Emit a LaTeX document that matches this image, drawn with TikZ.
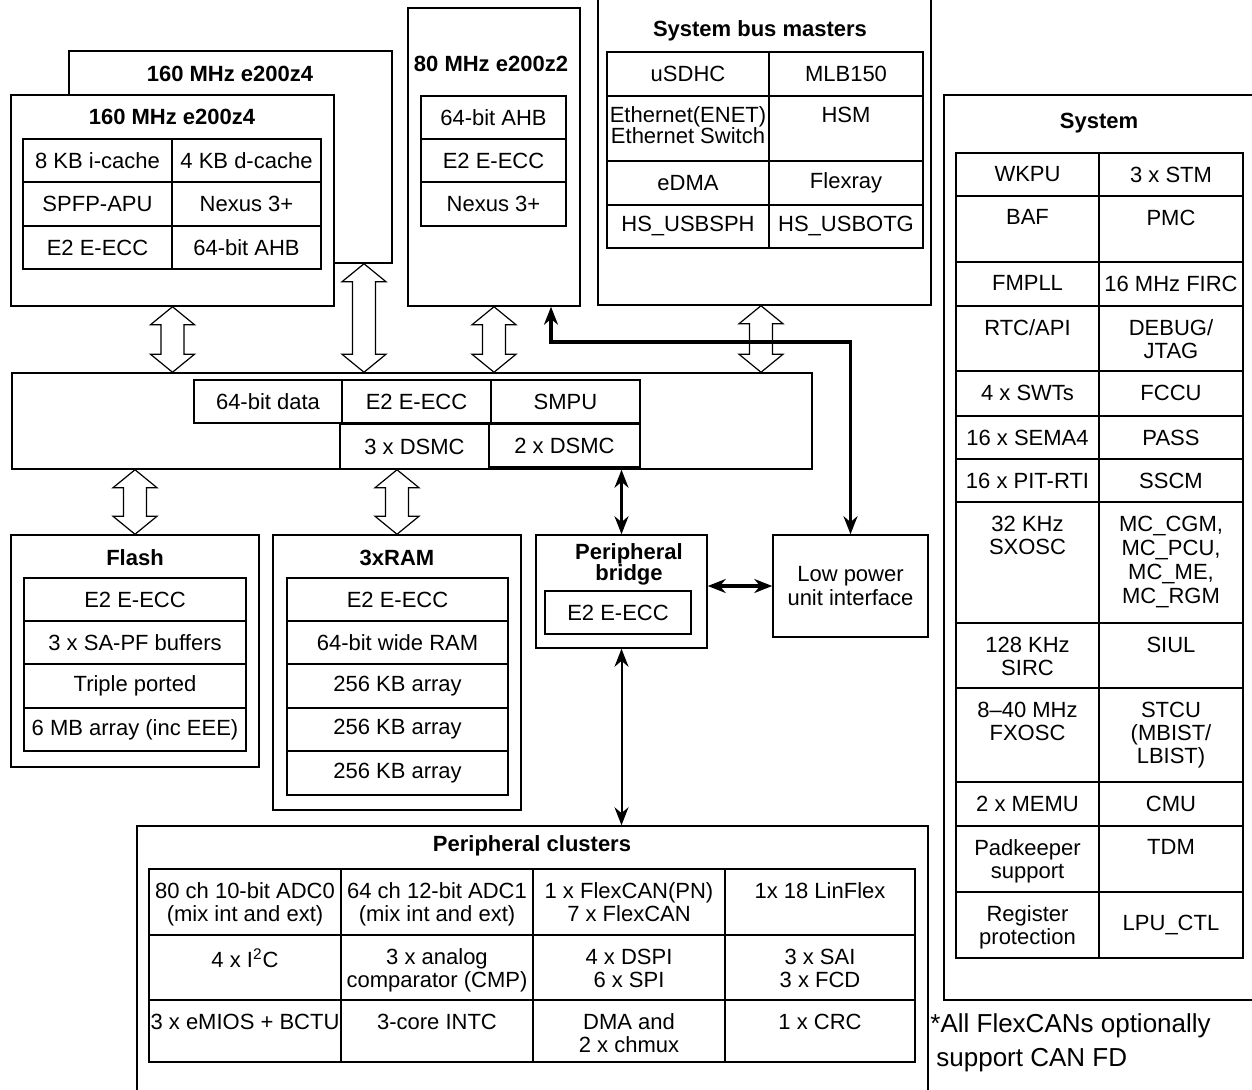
\documentclass[tikz,border=0pt]{standalone}
\usepackage{fontspec}
\setmainfont{Liberation Sans}
\usetikzlibrary{arrows.meta,fit,calc}
\begin{document}
\begin{tikzpicture}[x=0.5pt,y=-0.5pt]
    \tikzstyle{every node}+=[inner sep=0pt, font=\fontsize{11}{11.5}\selectfont]
    \tikzstyle{box}=[draw=black, line width=0.75pt, fill=white]
    \tikzstyle{ttl}=[font=\fontsize{11}{10.5}\selectfont\bfseries, align=center]
    \tikzstyle{tl}=[anchor=north, yshift=-7pt, align=center]
    \tikzstyle{cl}=[anchor=center, align=center]
    \tikzstyle{fat}=[draw=black, line width=0.6pt, fill=white, to path={let \p1=(\tikztostart), \p2=(\tikztotarget) in (\x1,\y1) -- ++(11pt,-9pt) -- ++(-5.25pt,0pt) -- (\x1+5.75pt,\y2+9pt) -- ++(5.25pt,0pt) -- (\x2,\y2) -- ++(-11pt,9pt) -- ++(5.25pt,0pt) -- (\x1-5.75pt,\y1-9pt) -- ++(-5.25pt,0pt) -- cycle}]
    \tikzstyle{link}=[black, line width=1.4pt, {Stealth[length=9pt,width=7pt]}-{Stealth[length=9pt,width=7pt]}]
    \useasboundingbox (0,0) rectangle (1252,1090);
    \clip (0,0) rectangle (1252,1090);
    % cores
    \node [box, fit={(69,51) (392,263)}] (core0) {};
    \node [ttl] (t-core0) at (230,74) {160 MHz e200z4};
    \node [box, fit={(11,95) (334,306)}] (core1) {};
    \node [ttl] (t-core1) at (172,117) {160 MHz e200z4};
    \node [box, fit={(23,139) (172,182)}, label={[cl]center:8 KB i-cache}] (c-icache) {};
    \node [box, fit={(172,139) (321,182)}, label={[cl]center:4 KB d-cache}] (c-dcache) {};
    \node [box, fit={(23,182) (172,226)}, label={[cl]center:SPFP-APU}] (c-spfp) {};
    \node [box, fit={(172,182) (321,226)}, label={[cl]center:Nexus 3+}] (c-nexus) {};
    \node [box, fit={(23,226) (172,269)}, label={[cl]center:E2 E-ECC}] (c-ecc) {};
    \node [box, fit={(172,226) (321,269)}, label={[cl]center:64-bit AHB}] (c-ahb) {};
    \node [box, fit={(408,8) (580,306)}] (z2) {};
    \node [ttl] (t-z2) at (491,64) {80 MHz e200z2};
    \node [box, fit={(421,96) (566,139)}, label={[cl]center:64-bit AHB}] (z-ahb) {};
    \node [box, fit={(421,139) (566,182)}, label={[cl]center:E2 E-ECC}] (z-ecc) {};
    \node [box, fit={(421,182) (566,226)}, label={[cl]center:Nexus 3+}] (z-nexus) {};
    % system bus masters
    \node [box, fit={(598,-3) (931,305)}] (busm) {};
    \node [ttl] (t-busm) at (760,31) {System bus masters};
    \node [box, fit={(607,52) (769,96)}, label={[cl]center:uSDHC}] (m-usdhc) {};
    \node [box, fit={(769,52) (923,96)}, label={[cl]center:MLB150}] (m-mlb) {};
    \node [box, fit={(607,96) (769,161)}, label={[tl, yshift=1.5pt, font=\fontsize{11}{10.5}\selectfont]north:Ethernet(ENET)\\Ethernet Switch}] (m-enet) {};
    \node [box, fit={(769,96) (923,161)}, label={[tl, yshift=1.5pt]north:HSM}] (m-hsm) {};
    \node [box, fit={(607,161) (769,205)}, label={[cl]center:eDMA}] (m-edma) {};
    \node [box, fit={(769,161) (923,205)}, label={[cl]center:Flexray}] (m-flexray) {};
    \node [box, fit={(607,205) (769,248)}, label={[cl]center:HS\_USBSPH}] (m-usbsph) {};
    \node [box, fit={(769,205) (923,248)}, label={[cl]center:HS\_USBOTG}] (m-usbotg) {};
    % system
    \node [box, fit={(944,95) (1258,1000)}] (sys) {};
    \node [ttl] (t-sys) at (1099,123) {System};
    \node [box, fit={(956,153) (1099,196)}, label={[tl]north:WKPU}] (s-wkpu) {};
    \node [box, fit={(1099,153) (1243,196)}, label={[tl]north:3 x STM}] (s-stm) {};
    \node [box, fit={(956,196) (1099,262)}, label={[tl]north:BAF}] (s-baf) {};
    \node [box, fit={(1099,196) (1243,262)}, label={[tl]north:PMC}] (s-pmc) {};
    \node [box, fit={(956,262) (1099,306)}, label={[tl]north:FMPLL}] (s-fmpll) {};
    \node [box, fit={(1099,262) (1243,306)}, label={[tl]north:16 MHz FIRC}] (s-firc) {};
    \node [box, fit={(956,306) (1099,371)}, label={[tl]north:RTC/API}] (s-rtc) {};
    \node [box, fit={(1099,306) (1243,371)}, label={[tl]north:DEBUG/\\JTAG}] (s-debug) {};
    \node [box, fit={(956,371) (1099,416)}, label={[tl]north:4 x SWTs}] (s-swt) {};
    \node [box, fit={(1099,371) (1243,416)}, label={[tl]north:FCCU}] (s-fccu) {};
    \node [box, fit={(956,416) (1099,459)}, label={[tl]north:16 x SEMA4}] (s-sema) {};
    \node [box, fit={(1099,416) (1243,459)}, label={[tl]north:PASS}] (s-pass) {};
    \node [box, fit={(956,459) (1099,502)}, label={[tl]north:16 x PIT-RTI}] (s-pit) {};
    \node [box, fit={(1099,459) (1243,502)}, label={[tl]north:SSCM}] (s-sscm) {};
    \node [box, fit={(956,502) (1099,623)}, label={[tl]north:32 KHz\\SXOSC}] (s-sxosc) {};
    \node [box, fit={(1099,502) (1243,623)}, label={[tl, font=\fontsize{11}{12}\selectfont]north:MC\_CGM,\\MC\_PCU,\\MC\_ME,\\MC\_RGM}] (s-mc) {};
    \node [box, fit={(956,623) (1099,688)}, label={[tl]north:128 KHz\\SIRC}] (s-sirc) {};
    \node [box, fit={(1099,623) (1243,688)}, label={[tl]north:SIUL}] (s-siul) {};
    \node [box, fit={(956,688) (1099,782)}, label={[tl]north:8--40 MHz\\FXOSC}] (s-fxosc) {};
    \node [box, fit={(1099,688) (1243,782)}, label={[tl]north:STCU\\(MBIST/\\LBIST)}] (s-stcu) {};
    \node [box, fit={(956,782) (1099,826)}, label={[tl]north:2 x MEMU}] (s-memu) {};
    \node [box, fit={(1099,782) (1243,826)}, label={[tl]north:CMU}] (s-cmu) {};
    \node [box, fit={(956,826) (1099,892)}, label={[tl]north:Padkeeper\\support}] (s-pad) {};
    \node [box, fit={(1099,826) (1243,892)}, label={[tl]north:TDM}] (s-tdm) {};
    \node [box, fit={(956,892) (1099,958)}, label={[tl]north:Register\\protection}] (s-reg) {};
    \node [box, fit={(1099,892) (1243,958)}, label={[cl]center:LPU\_CTL}] (s-lpu) {};
    % crossbar
    \node [box, fit={(12,373) (812,469)}] (xbar) {};
    \node [box, fit={(194,380) (342,423)}, label={[cl]center:64-bit data}] (x-data) {};
    \node [box, fit={(342,380) (491,423)}, label={[cl]center:E2 E-ECC}] (x-ecc) {};
    \node [box, fit={(491,380) (640,423)}, label={[cl]center:SMPU}] (x-smpu) {};
    \node [box, fit={(340,424) (489,469)}, label={[cl]center:3 x DSMC}] (x-dsmc3) {};
    \node [box, fit={(489,424) (640,467)}, label={[cl]center:2 x DSMC}] (x-dsmc2) {};
    % memories
    \node [box, fit={(11,535) (259,767)}] (flash) {};
    \node [ttl] (t-flash) at (135,558) {Flash};
    \node [box, fit={(24,578) (246,621)}, label={[cl]center:E2 E-ECC}] (f-ecc) {};
    \node [box, fit={(24,621) (246,664)}, label={[cl]center:3 x SA-PF buffers}] (f-buf) {};
    \node [box, fit={(24,664) (246,708)}, label={[cl]center:Triple ported}] (f-port) {};
    \node [box, fit={(24,708) (246,751)}, label={[cl]center:6 MB array (inc EEE)}] (f-array) {};
    \node [box, fit={(273,535) (521,810)}] (ram) {};
    \node [ttl] (t-ram) at (397,558) {3xRAM};
    \node [box, fit={(287,578) (508,621)}, label={[cl]center:E2 E-ECC}] (r-ecc) {};
    \node [box, fit={(287,621) (508,664)}, label={[cl]center:64-bit wide RAM}] (r-wide) {};
    \node [box, fit={(287,664) (508,708)}, label={[cl]center:256 KB array}] (r-a1) {};
    \node [box, fit={(287,708) (508,751)}, label={[cl]center:256 KB array}] (r-a2) {};
    \node [box, fit={(287,751) (508,795)}, label={[cl]center:256 KB array}] (r-a3) {};
    % bridge and low power
    \node [box, fit={(536,535) (707,648)}] (bridge) {};
    \node [ttl] (t-bridge) at (629,564) {Peripheral\\bridge};
    \node [box, fit={(545,591) (691,634)}, label={[cl]center:E2 E-ECC}] (b-ecc) {};
    \node [box, fit={(773,535) (928,637)}, label={[cl, font=\fontsize{11}{12}\selectfont]center:Low power\\unit interface}] (lpu) {};
    % peripheral clusters
    \node [box, fit={(137,826) (928,1096)}] (clus) {};
    \node [ttl] (t-clus) at (532,846) {Peripheral clusters};
    \node [box, fit={(149,869) (341,935)}, label={[tl]north:80 ch 10-bit ADC0\\(mix int and ext)}] (p-adc0) {};
    \node [box, fit={(341,869) (533,935)}, label={[tl]north:64 ch 12-bit ADC1\\(mix int and ext)}] (p-adc1) {};
    \node [box, fit={(533,869) (725,935)}, label={[tl]north:1 x FlexCAN(PN)\\7 x FlexCAN}] (p-can) {};
    \node [box, fit={(725,869) (915,935)}, label={[tl]north:1x 18 LinFlex}] (p-lin) {};
    \node [box, fit={(149,935) (341,1000)}, label={[tl]north:4 x I\textsuperscript{2}C}] (p-i2c) {};
    \node [box, fit={(341,935) (533,1000)}, label={[tl]north:3 x analog\\comparator (CMP)}] (p-cmp) {};
    \node [box, fit={(533,935) (725,1000)}, label={[tl]north:4 x DSPI\\6 x SPI}] (p-spi) {};
    \node [box, fit={(725,935) (915,1000)}, label={[tl]north:3 x SAI\\3 x FCD}] (p-sai) {};
    \node [box, fit={(149,1000) (341,1062)}, label={[tl]north:3 x eMIOS + BCTU}] (p-emios) {};
    \node [box, fit={(341,1000) (533,1062)}, label={[tl]north:3-core INTC}] (p-intc) {};
    \node [box, fit={(533,1000) (725,1062)}, label={[tl]north:DMA and\\2 x chmux}] (p-dma) {};
    \node [box, fit={(725,1000) (915,1062)}, label={[tl]north:1 x CRC}] (p-crc) {};
    \node [anchor=north west, align=left, font=\fontsize{13}{17}\selectfont] (note) at (930,1013) {*All FlexCANs optionally\\\hspace{3pt}support CAN FD};
    % buses
    \draw [fat] (core1.south) to (core1.south |- xbar.north);
    \draw [fat] (core0.south -| 364,0) to (xbar.north -| 364,0);
    \draw [fat] (z2.south) to (z2.south |- xbar.north);
    \draw [fat] (busm.south -| 761,0) to (xbar.north -| 761,0);
    \draw [fat] (flash.north |- xbar.south) to (flash.north);
    \draw [fat] (ram.north |- xbar.south) to (ram.north);
    \draw [link] (bridge.north |- xbar.south) -- (bridge.north);
    \draw [link, line width=1pt] (bridge.south) -- (bridge.south |- clus.north);
    \draw [link, line width=1.7pt] (bridge.east |- lpu.west) -- (lpu.west);
    \draw [link, line width=1.7pt] (z2.south -| 551,0) |- (lpu.north |- 0,342) -- (lpu.north);
\end{tikzpicture}
\end{document}
